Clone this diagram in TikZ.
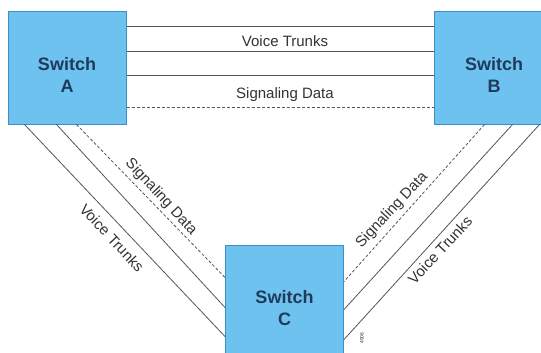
\documentclass[tikz,border=0pt]{standalone}
\usepackage{fontspec}
\setmainfont{Liberation Sans}
\usetikzlibrary{calc}
\definecolor{boxfill}{HTML}{6DC2EF}
\definecolor{boxline}{HTML}{3C8DCB}
\definecolor{boxtext}{HTML}{1F3A5C}
\definecolor{wire}{HTML}{555555}
\definecolor{lbl}{HTML}{333333}
\tikzset{
  switchbox/.style={draw=boxline, line width=1pt, fill=boxfill, minimum width=118pt, minimum height=112pt, inner sep=0pt},
  switchlabel/.style={font=\fontsize{18}{22}\selectfont\bfseries, text=boxtext, align=center},
  trunk/.style={draw=wire, line width=0.8pt},
  sigline/.style={draw=wire, line width=0.8pt, dash pattern=on 3pt off 2pt},
  linklabel/.style={font=\fontsize{15}{18}\selectfont, text=lbl, inner sep=0pt}
}
\begin{document}
\begin{tikzpicture}[x=1pt,y=-1pt]
\useasboundingbox (0,0) rectangle (541,353);
\fill[white] (0,0) rectangle (541,353);
% switches
\node[switchbox] (A) at (67,68) {};
\node[switchbox, minimum width=120pt] (B) at (494,68) {};
\node[switchbox] (C) at (284.5,301) {};
\node[switchlabel] (Atxt) at ($(A.center)+(0,7)$) {Switch\\A};
\node[switchlabel] (Btxt) at ($(B.center)+(0,7)$) {Switch\\B};
\node[switchlabel] (Ctxt) at ($(C.center)+(0,7)$) {Switch\\C};
% A -- B
\draw[trunk] ($(A.north east)+(0,15)$) -- ($(B.north west)+(0,15)$);
\draw[trunk] ($(A.north east)+(0,40)$) -- ($(B.north west)+(0,40)$);
\draw[trunk] ($(A.north east)+(0,64)$) -- ($(B.north west)+(0,64)$);
\draw[sigline] ($(A.north east)+(0,96)$) -- ($(B.north west)+(0,96)$);
\node[linklabel] (vtab) at (285,41) {Voice Trunks};
\node[linklabel] (sdab) at (285,95) {Signaling Data};
% A -- C
\draw[trunk] ($(A.south west)+(17,0)$) -- ($(C.north west)+(0,92)$);
\draw[trunk] ($(A.south west)+(49,0)$) -- ($(C.north west)+(0,63)$);
\draw[sigline] ($(A.south west)+(69,0)$) -- ($(C.north west)+(0,33)$);
\node[linklabel, rotate=-47] (vtac) at (112,238) {Voice Trunks};
\node[linklabel, rotate=-47] (sdac) at (161,197) {Signaling Data};
% B -- C
\draw[sigline] ($(B.south west)+(51,0)$) -- ($(C.north east)+(0,37)$);
\draw[trunk] ($(B.south west)+(79,0)$) -- ($(C.north east)+(0,65)$);
\draw[trunk] ($(B.south west)+(106,0)$) -- ($(C.north east)+(0,95)$);
\node[linklabel, rotate=47] (sdbc) at (392,210) {Signaling Data};
\node[linklabel, rotate=47] (vtbc) at (440,250) {Voice Trunks};
% figure number
\node[font=\fontsize{5}{6}\selectfont, text=lbl, rotate=90, inner sep=0pt] (fig) at (362,338) {4906};
\end{tikzpicture}
\end{document}
